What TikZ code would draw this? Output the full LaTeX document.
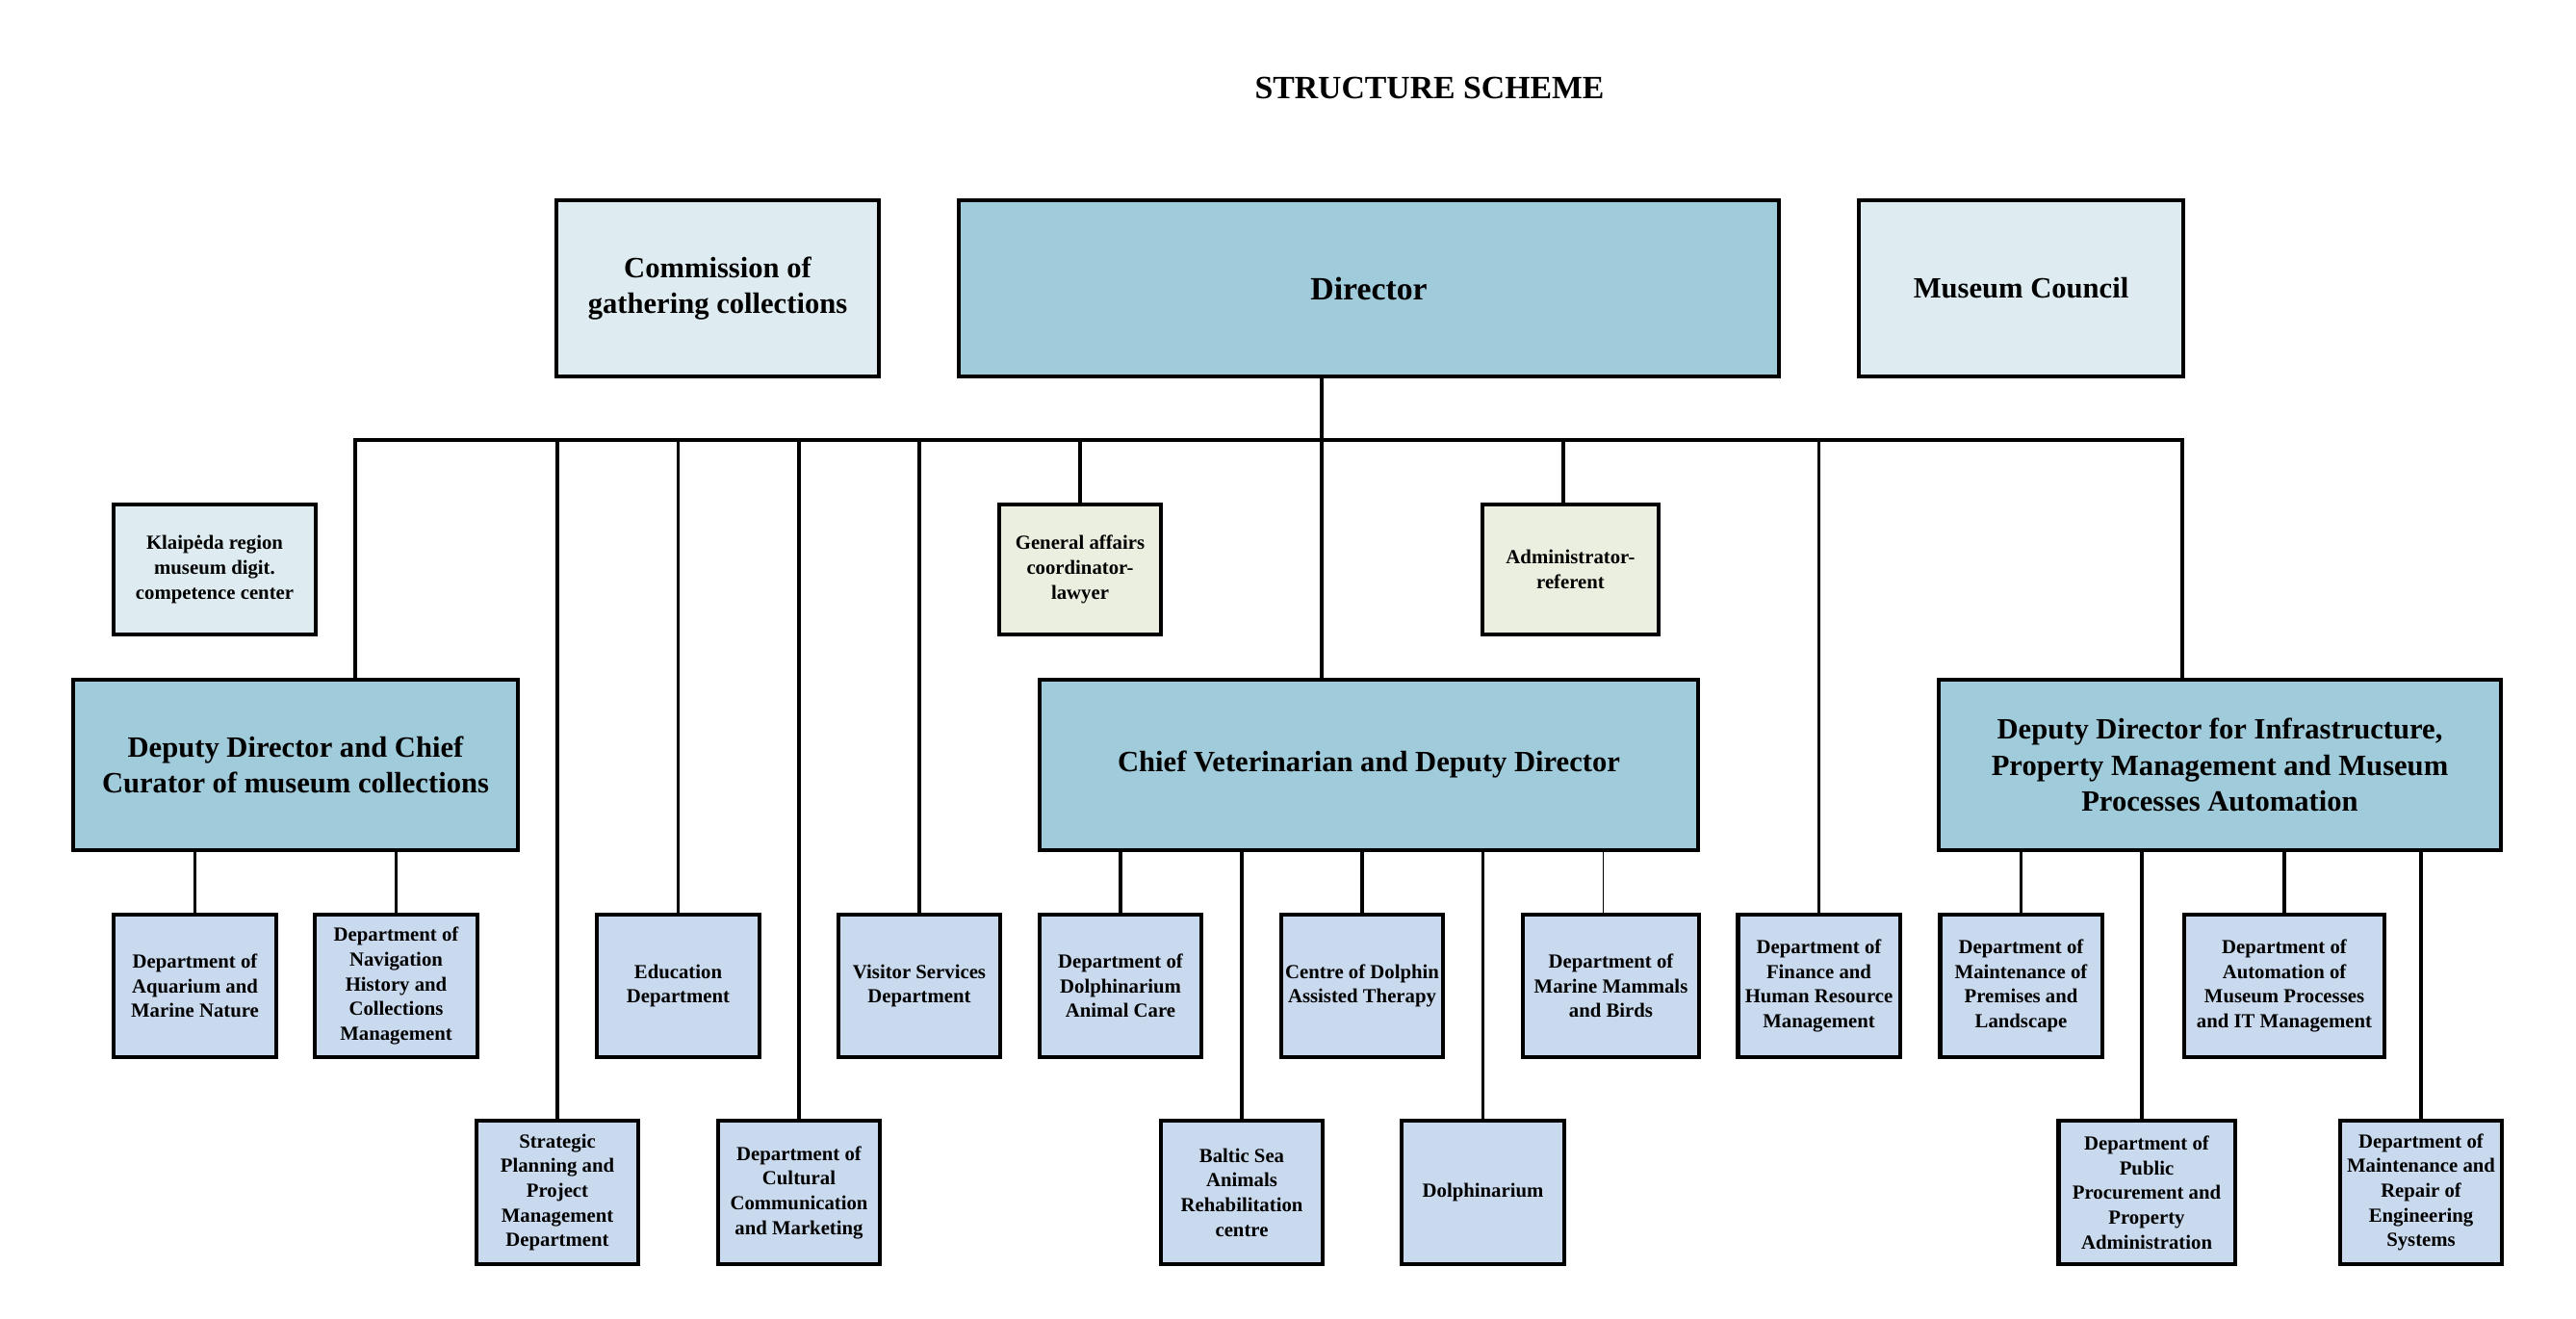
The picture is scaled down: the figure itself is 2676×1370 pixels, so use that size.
\documentclass[tikz,border=0pt]{standalone}
\usepackage{fontspec}
\setmainfont{Liberation Serif}
\usepackage{tikz}
\usetikzlibrary{positioning}

\definecolor{headblue}{HTML}{A0CBDA}
\definecolor{paleblue}{HTML}{DEECF1}
\definecolor{staffgreen}{HTML}{EBEFDF}
\definecolor{deptblue}{HTML}{C9D9EE}

\begin{document}
\begin{tikzpicture}[x=0.01cm,y=-0.01cm,
    orgbox/.style={draw,line width=1.15pt,align=center,inner sep=1pt,font=\bfseries},
    headbox/.style={orgbox,fill=headblue,minimum height=1.77cm,font=\bfseries\fontsize{8.7}{10.7}\selectfont},
    topbox/.style={orgbox,minimum height=1.83cm,font=\bfseries\fontsize{8.7}{10.7}\selectfont},
    palebox/.style={orgbox,fill=paleblue,minimum height=1.35cm,minimum width=2.1cm,font=\bfseries\fontsize{5.9}{7.3}\selectfont},
    staffbox/.style={orgbox,fill=staffgreen,minimum height=1.35cm,font=\bfseries\fontsize{5.9}{7.3}\selectfont},
    deptbox/.style={orgbox,fill=deptblue,minimum height=1.48cm,minimum width=1.68cm,font=\bfseries\fontsize{5.9}{7.3}\selectfont},
    link/.style={line width=0.9pt},
    thinlink/.style={line width=0.45pt}]
\useasboundingbox (0,0) rectangle (2676,1370);

\node[font=\bfseries\fontsize{9.6}{11.5}\selectfont] (title) at (1485,91) {STRUCTURE SCHEME};

% top row
\node[topbox,fill=paleblue,minimum width=3.35cm] (comm) at (745.5,299.5) {Commission of\\gathering collections};
\node[topbox,fill=headblue,minimum width=8.52cm,font=\bfseries\fontsize{9.6}{11.5}\selectfont] (dir) at (1422,299.5) {Director};
\node[topbox,fill=paleblue,minimum width=3.37cm] (council) at (2099.5,299.5) {Museum Council};

% staff
\node[palebox] (klaip) at (223,591.5) {Klaipėda region\\museum digit.\\competence center};
\node[staffbox,minimum width=1.68cm] (gen) at (1122,591.5) {General affairs\\coordinator-\\lawyer};
\node[staffbox,minimum width=1.83cm] (admin) at (1631.5,591.5) {Administrator-\\referent};

% deputies
\node[headbox,minimum width=4.62cm] (depL) at (307,794.5) {Deputy Director and Chief\\Curator of museum collections};
\node[headbox,minimum width=6.84cm] (chief) at (1422,794.5) {Chief Veterinarian and Deputy Director};
\node[headbox,minimum width=5.84cm] (depR) at (2306,794.5) {Deputy Director for Infrastructure,\\Property Management and Museum\\Processes Automation};

% departments, upper row
\node[deptbox] (aqua) at (202.5,1024) {Department of\\Aquarium and\\Marine Nature};
\node[deptbox] (nav) at (411.5,1024) {Department of\\Navigation\\History and\\Collections\\Management};
\node[deptbox] (edu) at (704.5,1024) {Education\\Department};
\node[deptbox] (visit) at (955,1024) {Visitor Services\\Department};
\node[deptbox] (dac) at (1164,1024) {Department of\\Dolphinarium\\Animal Care};
\node[deptbox] (centre) at (1415,1024) {Centre of Dolphin\\Assisted Therapy};
\node[deptbox,minimum width=1.83cm] (mm) at (1673.5,1024) {Department of\\Marine Mammals\\and Birds};
\node[deptbox] (fin) at (1889.5,1024) {Department of\\Finance and\\Human Resource\\Management};
\node[deptbox] (maintp) at (2099.5,1024) {Department of\\Maintenance of\\Premises and\\Landscape};
\node[deptbox,minimum width=2.07cm] (auto) at (2373,1024) {Department of\\Automation of\\Museum Processes\\and IT Management};

% departments, lower row
\node[deptbox] (strat) at (579,1238.5) {Strategic\\Planning and\\Project\\Management\\Department};
\node[deptbox] (cult) at (830,1238.5) {Department of\\Cultural\\Communication\\and Marketing};
\node[deptbox] (baltic) at (1290,1238.5) {Baltic Sea\\Animals\\Rehabilitation\\centre};
\node[deptbox] (dolph) at (1540.5,1238.5) {Dolphinarium};
\node[deptbox,minimum width=1.83cm] (public) at (2230,1238.5) {Department of\\Public\\Procurement and\\Property\\Administration};
\node[deptbox] (maintr) at (2515,1238.5) {Department of\\Maintenance and\\Repair of\\Engineering\\Systems};

% bus under the director
\coordinate (busL) at (369,457);
\coordinate (busR) at (2267,457);
\coordinate (busD) at (1373,457);
\draw[link] (busD |- dir.south) -- (busD |- chief.north);
\draw[link] (busL |- depL.north) -- (busL) -- (busR) -- (busR |- depR.north);
\foreach \n in {strat,edu,cult,visit,gen,fin}
  \draw[link] (\n.north |- busL) -- (\n.north);
\draw[link] ([xshift=-0.075cm]admin.north |- busL) -- ([xshift=-0.075cm]admin.north);

% deputies to departments
\foreach \n in {aqua,nav}
  \draw[link] (depL.south -| \n.north) -- (\n.north);
\foreach \n in {dac,baltic,centre,dolph}
  \draw[link] (chief.south -| \n.north) -- (\n.north);
\draw[thinlink] ([xshift=-0.08cm]mm.north |- chief.south) -- ([xshift=-0.08cm]mm.north);
\foreach \n in {maintp,auto,maintr}
  \draw[link] (depR.south -| \n.north) -- (\n.north);
\draw[link] ([xshift=-0.05cm]public.north |- depR.south) -- ([xshift=-0.05cm]public.north);
\end{tikzpicture}
\end{document}
